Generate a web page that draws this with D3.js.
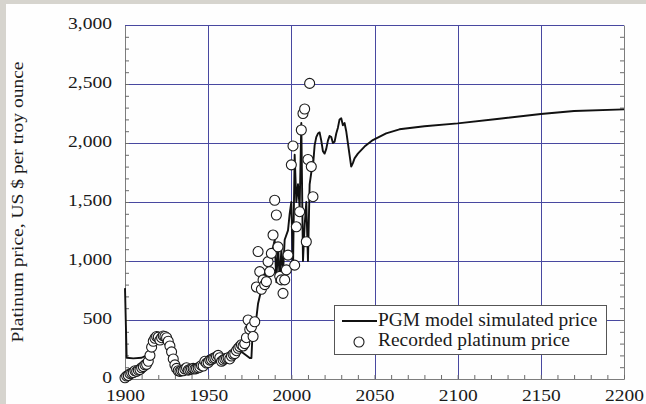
<!DOCTYPE html>
<html>
<head>
<meta charset="utf-8">
<script src="https://cdn.jsdelivr.net/npm/d3@7"></script>
<style>
  html, body { margin: 0; padding: 0; background: #d6d4ce; }
  svg { display: block; }
  text { font-family: "Liberation Serif", "Times New Roman", serif; fill: #1a1a1a; }
</style>
</head>
<body>
<svg id="chart" width="646" height="404"></svg>
<script>
// ---- data -------------------------------------------------------------
const xTickYears = [1900, 1950, 2000, 2050, 2100, 2150, 2200];
const yTickPrices = [0, 500, 1000, 1500, 2000, 2500, 3000];

const yTitle = "Platinum price, US $ per troy ounce";
const legendLabels = ["PGM model simulated price", "Recorded platinum price"];

// recorded platinum price, US $ per troy ounce
const recordedYears = [
  1900, 1901, 1902, 1903, 1904, 1905, 1906, 1907, 1908, 1909,
  1910, 1911, 1912, 1913, 1914, 1915, 1916, 1917, 1918, 1919,
  1920, 1921, 1922, 1923, 1924, 1925, 1926, 1927, 1928, 1929,
  1930, 1931, 1932, 1933, 1934, 1935, 1936, 1937, 1938, 1939,
  1940, 1941, 1942, 1943, 1944, 1945, 1946, 1947, 1948, 1949,
  1950, 1951, 1952, 1953, 1954, 1955, 1956, 1957, 1958, 1959,
  1960, 1961, 1962, 1963, 1964, 1965, 1966, 1967, 1968, 1969,
  1970, 1971, 1972, 1973, 1974, 1975, 1976, 1977, 1978, 1979,
  1980, 1981, 1982, 1983, 1984, 1985, 1986, 1987, 1988, 1989,
  1990, 1991, 1992, 1993, 1994, 1995, 1996, 1997, 1998, 2000,
  2001, 2002, 2003, 2005, 2006, 2007, 2008, 2009, 2010, 2011,
  2012, 2013
];
const recordedPrices = [
  10, 25, 30, 45, 50, 55, 70, 65, 75, 80,
  95, 105, 120, 125, 150, 200, 270, 320, 345, 360,
  355, 330, 350, 365, 360, 350, 320, 280, 230, 170,
  120, 90, 70, 65, 70, 70, 85, 95, 75, 80,
  85, 90, 85, 90, 95, 100, 115, 110, 150, 135,
  140, 160, 165, 175, 180, 190, 200, 180, 150, 160,
  170, 175, 180, 170, 195, 210, 215, 240, 260, 275,
  290, 280, 300, 350, 500, 420, 440, 360, 485, 780,
  1080, 910, 760, 840, 800, 825, 995, 910, 1065, 1220,
  1515, 1390, 1120, 870, 840, 726, 840, 925, 1050, 1815,
  1975, 965, 1290, 1418, 2110, 2250, 2288, 1163, 1860, 2505,
  1800, 1545
];

// PGM model simulated price
const simYears = [
  1900, 1901, 1905, 1910, 1913, 1916, 1919, 1922, 1925, 1928,
  1931, 1935, 1940, 1945, 1948, 1952, 1956, 1960, 1965, 1970,
  1975, 1976, 1977, 1979, 1980, 1982, 1984, 1986, 1988, 1990,
  1991, 1992, 1993, 1994, 1995, 1996, 1998, 1999, 2000, 2001,
  2002, 2003, 2004, 2005, 2006, 2007, 2008, 2009, 2010, 2011,
  2012, 2013, 2014, 2015, 2016, 2017, 2018, 2019, 2020, 2021,
  2022, 2023, 2024, 2025, 2026, 2027, 2028, 2029, 2030, 2031,
  2032, 2033, 2034, 2035, 2036, 2037, 2038, 2040, 2044, 2049,
  2057, 2065, 2080, 2100, 2125, 2150, 2170, 2200
];
const simPrices = [
  770, 180, 175, 180, 200, 290, 340, 335, 320, 220,
  110, 90, 95, 100, 150, 175, 185, 170, 178, 230,
  178, 178, 480, 520, 640, 760, 880, 950, 1050, 1180,
  820, 1150, 830, 1100, 900, 1180, 1260, 1400, 1500, 930,
  1900, 1500, 1650, 1450, 2170, 1000, 1300, 1500, 1000, 1650,
  1750, 1800, 1980, 2050, 2080, 2090, 2020, 1930, 1910, 1950,
  2020, 2060, 2050, 2000, 2010, 2080, 2130, 2200, 2210, 2150,
  2170, 2100, 2000, 1900, 1800, 1830, 1870, 1910, 1970, 2025,
  2082, 2116, 2142, 2166, 2205, 2246, 2271, 2285
];

// ---- layout -----------------------------------------------------------
const W = 646, H = 404;
const plot = { left: 125, right: 624, top: 25, bottom: 379 };
const gridColor = "#4848a0";
const frameColor = "#7d7d7d";
const labelScaleX = 1.15;

const svg = d3.select("#chart");

// white panel
svg.append("rect")
  .attr("x", 6).attr("y", 4)
  .attr("width", W - 6).attr("height", H - 4)
  .attr("fill", "#fefefe");

const x = d3.scaleLinear().domain([1900, 2200]).range([plot.left, plot.right]);
const y = d3.scaleLinear().domain([0, 3000]).range([plot.bottom, plot.top]);

// grid
const grid = svg.append("g").attr("stroke", gridColor).attr("stroke-width", 1)
  .attr("shape-rendering", "crispEdges");
grid.selectAll("line.v")
  .data(xTickYears.filter(d => d > 1900 && d < 2200))
  .join("line").attr("class", "v")
  .attr("x1", d => Math.round(x(d)) + 0.5).attr("x2", d => Math.round(x(d)) + 0.5)
  .attr("y1", plot.top).attr("y2", plot.bottom);
grid.selectAll("line.h")
  .data(yTickPrices.filter(d => d > 0))
  .join("line").attr("class", "h")
  .attr("x1", plot.left).attr("x2", plot.right)
  .attr("y1", d => Math.round(y(d)) + 0.5).attr("y2", d => Math.round(y(d)) + 0.5);

// axes with inward minor ticks
const minorY = d3.range(0, 3001, 100);
const minorX = d3.range(1900, 2201, 10);
const fmt = d3.format(",");

function styleAxis(g, size) {
  g.selectAll("path.domain").attr("stroke", frameColor);
  g.selectAll(".tick line").attr("stroke", "#6a6a6a");
  g.selectAll("text").attr("fill", "#1a1a1a")
    .style("font-family", '"Liberation Serif", "Times New Roman", serif')
    .style("font-size", size + "px");
}

const leftAxis = svg.append("g")
  .attr("transform", `translate(${plot.left},0)`)
  .call(d3.axisLeft(y).tickValues(minorY).tickSizeInner(-4).tickSizeOuter(0)
    .tickFormat(d => d % 500 === 0 ? fmt(d) : ""));
styleAxis(leftAxis, 17);
leftAxis.selectAll("text")
  .attr("x", 0).attr("dy", 3)
  .attr("transform", `translate(-13,0) scale(${labelScaleX},1)`);

const rightAxis = svg.append("g")
  .attr("transform", `translate(${plot.right},0)`)
  .call(d3.axisRight(y).tickValues(minorY).tickSizeInner(-4).tickSizeOuter(0)
    .tickFormat(""));
styleAxis(rightAxis, 17);

const bottomAxis = svg.append("g")
  .attr("transform", `translate(0,${plot.bottom})`)
  .call(d3.axisBottom(x).tickValues(minorX).tickSizeInner(-4).tickSizeOuter(0)
    .tickFormat(d => d % 50 === 0 ? String(d) : ""));
styleAxis(bottomAxis, 16.5);
bottomAxis.selectAll("text")
  .attr("y", 22).attr("dy", 0)
  .attr("transform", `scale(1.18,1)`);

// top edge of the frame
svg.append("line")
  .attr("x1", plot.left).attr("x2", plot.right)
  .attr("y1", plot.top + 0.5).attr("y2", plot.top + 0.5)
  .attr("stroke", gridColor);

// y-axis title
svg.append("text")
  .attr("transform", `translate(23,${(plot.top + plot.bottom) / 2}) rotate(-90) scale(1.22,1)`)
  .attr("text-anchor", "middle")
  .style("font-size", "16px")
  .text(yTitle);

// simulated price line
const simData = simYears.map((yr, i) => [yr, simPrices[i]]);
svg.append("path")
  .datum(simData)
  .attr("fill", "none")
  .attr("stroke", "#111")
  .attr("stroke-width", 1.9)
  .attr("stroke-linejoin", "round")
  .attr("d", d3.line().x(d => x(d[0])).y(d => y(d[1])));

// recorded price markers
const recData = recordedYears.map((yr, i) => [yr, recordedPrices[i]]);
svg.append("g").selectAll("circle")
  .data(recData)
  .join("circle")
  .attr("cx", d => x(d[0]))
  .attr("cy", d => y(d[1]))
  .attr("r", 5)
  .attr("fill", "#fff")
  .attr("stroke", "#1a1a1a")
  .attr("stroke-width", 1.1);

// legend
const lg = svg.append("g");
lg.append("rect")
  .attr("x", 334.5).attr("y", 305.5).attr("width", 272).attr("height", 49)
  .attr("fill", "#fff").attr("stroke", "#555").attr("stroke-width", 1);
lg.append("line")
  .attr("x1", 342).attr("x2", 377).attr("y1", 321).attr("y2", 321)
  .attr("stroke", "#111").attr("stroke-width", 2);
lg.append("circle")
  .attr("cx", 359).attr("cy", 342).attr("r", 5)
  .attr("fill", "#fff").attr("stroke", "#1a1a1a").attr("stroke-width", 1.1);
lg.selectAll("text.lab")
  .data(legendLabels)
  .join("text").attr("class", "lab")
  .attr("transform", (d, i) => `translate(378,${326 + i * 20}) scale(1.05,1)`)
  .style("font-size", "18.5px")
  .text(d => d);
</script>
</body>
</html>
